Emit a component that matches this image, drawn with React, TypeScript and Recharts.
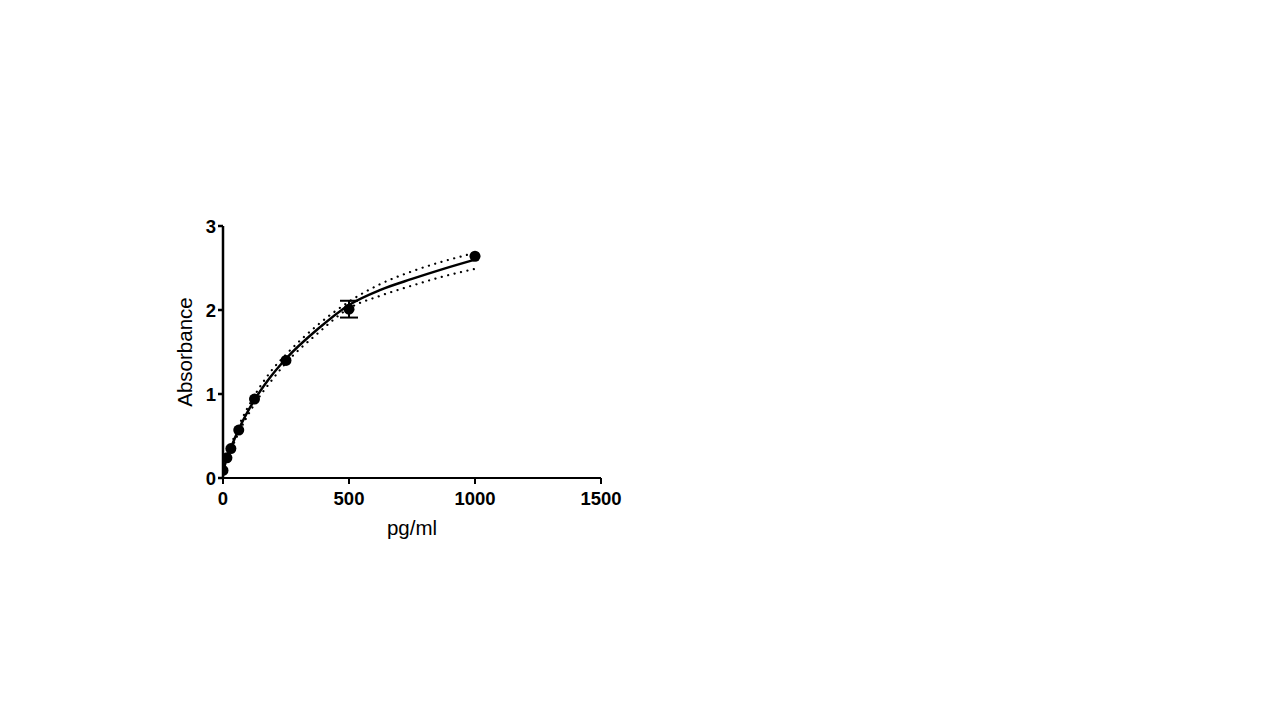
import React from "react";
import {
  ComposedChart,
  Line,
  Scatter,
  XAxis,
  YAxis,
  ErrorBar,
  Label,
} from "recharts";

// standards (pg/ml) and mean absorbance
const concentrations = [0, 15.625, 31.25, 62.5, 125, 250, 500, 1000];
const absorbance = [0.09, 0.24, 0.35, 0.57, 0.94, 1.4, 2.01, 2.64];
const errors = [0, 0, 0, 0, 0, 0, 0.1, 0];

// fitted curve and 95% band
const fitX = [0, 15.625, 31.25, 62.5, 125, 187.5, 250, 375, 500, 625, 750, 875, 1000];
const fitY = [0.07, 0.24, 0.36, 0.58, 0.93, 1.2, 1.42, 1.77, 2.06, 2.24, 2.37, 2.49, 2.6];
const upperBand = [0.09, 0.27, 0.39, 0.62, 0.98, 1.26, 1.47, 1.82, 2.1, 2.31, 2.46, 2.58, 2.68];
const lowerBand = [0.05, 0.21, 0.33, 0.54, 0.88, 1.14, 1.37, 1.72, 2.02, 2.17, 2.29, 2.4, 2.49];

const xTicks = [0, 500, 1000, 1500];
const yTicks = [0, 1, 2, 3];

const points = concentrations.map((x, i) => ({ x, y: absorbance[i], err: errors[i] }));
const fitData = fitX.map((x, i) => ({
  x,
  fit: fitY[i],
  upper: upperBand[i],
  lower: lowerBand[i],
}));

const font = "'Liberation Sans', Arial, sans-serif";

const Dot = (props: any) => <circle cx={props.cx} cy={props.cy} r={5.5} fill="#000" />;

const App = () => {
  return (
    <div style={{ position: "absolute", left: 0, top: 0, background: "#fff" }}>
      <ComposedChart
        width={1280}
        height={720}
        margin={{ top: 226, right: 679, left: 183, bottom: 182 }}
        style={{ fontFamily: font }}
      >
        <XAxis
          dataKey="x"
          type="number"
          domain={[0, 1500]}
          ticks={xTicks}
          allowDataOverflow
          height={60}
          stroke="#000"
          strokeWidth={2}
          tickSize={6}
          tickMargin={8}
          tick={{ fill: "#000", fontSize: 18.5, fontWeight: "bold", fontFamily: font }}
        >
          <Label
            value="pg/ml"
            position="insideTop"
            offset={42}
            style={{ fill: "#000", fontSize: 20.5, fontFamily: font }}
          />
        </XAxis>
        <YAxis
          type="number"
          domain={[0, 3]}
          ticks={yTicks}
          width={40}
          stroke="#000"
          strokeWidth={2.5}
          tickSize={5}
          tickMargin={2}
          tick={{ fill: "#000", fontSize: 18.5, fontWeight: "bold", fontFamily: font }}
        >
          <Label
            value="Absorbance"
            angle={-90}
            position="insideLeft"
            offset={2}
            style={{ fill: "#000", fontSize: 20.5, fontFamily: font, textAnchor: "middle" }}
          />
        </YAxis>
        <Line
          data={fitData}
          dataKey="upper"
          type="monotone"
          stroke="#000"
          strokeWidth={2.2}
          strokeDasharray="0.1 6.5"
          strokeLinecap="round"
          dot={false}
          activeDot={false}
          isAnimationActive={false}
        />
        <Line
          data={fitData}
          dataKey="lower"
          type="monotone"
          stroke="#000"
          strokeWidth={2.2}
          strokeDasharray="0.1 6.5"
          strokeLinecap="round"
          dot={false}
          activeDot={false}
          isAnimationActive={false}
        />
        <Line
          data={fitData}
          dataKey="fit"
          type="monotone"
          stroke="#000"
          strokeWidth={2.5}
          dot={false}
          activeDot={false}
          isAnimationActive={false}
        />
        <Scatter data={points} dataKey="y" shape={Dot} isAnimationActive={false}>
          <ErrorBar dataKey="err" direction="y" width={9} stroke="#000" strokeWidth={2} />
        </Scatter>
      </ComposedChart>
    </div>
  );
};

export default App;
